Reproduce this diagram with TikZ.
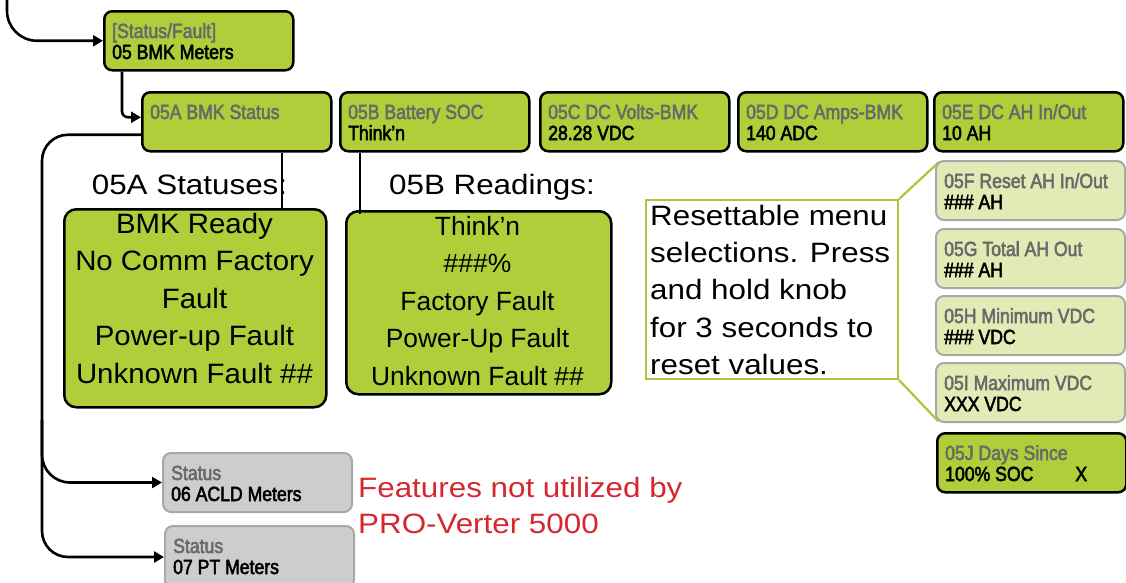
\documentclass[tikz,border=0pt]{standalone}
\usepackage{fontspec}
\setmainfont{Liberation Sans}
\newfontfamily\boxfont[FakeStretch=0.86,FakeBold=2.5]{Liberation Sans}
\newfontfamily\bigfont[FakeStretch=1.12]{Liberation Sans}
\newfontfamily\statfont[FakeStretch=1.05]{Liberation Sans}
\usetikzlibrary{arrows.meta}

\definecolor{menugreen}{RGB}{175,206,57}
\definecolor{palegreen}{RGB}{224,235,181}
\definecolor{unusedgray}{RGB}{205,205,205}
\definecolor{framegray}{RGB}{168,168,168}
\definecolor{labelgray}{RGB}{105,105,105}
\definecolor{notered}{RGB}{214,39,46}
\definecolor{linkgreen}{RGB}{165,200,60}

% A menu screen: name, top-left corner, style, grey caption, black value
\newcommand\menubox[5]{%
  \node[#3, anchor=north west] (#1) at (#2) {};
  \node[boxtext, text=labelgray] (#1-cap) at ([xshift=9pt,yshift=-28pt]#1.north west) {#4};
  \node[boxtext] (#1-val) at ([xshift=9pt,yshift=-49pt]#1.north west) {#5};
}

\tikzset{
  menu/.style={rectangle, rounded corners=8pt, draw=black, line width=2.5pt,
    fill=menugreen, minimum width=189pt, minimum height=59pt, inner sep=0pt},
  resetmenu/.style={menu, draw=framegray, fill=palegreen, line width=2pt},
  unused/.style={menu, draw=framegray, fill=unusedgray, line width=2pt},
  boxtext/.style={anchor=base west, inner sep=0pt, font=\boxfont\fontsize{20.5}{21}\selectfont},
  bigtext/.style={inner sep=0pt, font=\bigfont\fontsize{28}{34}\selectfont},
  stattext/.style={anchor=base, inner sep=0pt, font=\statfont\fontsize{28}{34}\selectfont},
  readtext/.style={anchor=base, inner sep=0pt, font=\fontsize{26.4}{32}\selectfont},
  listbox/.style={rectangle, rounded corners=12pt, draw=black, line width=2.5pt,
    fill=menugreen, inner sep=0pt},
  flow/.style={line width=2.6pt, -{Triangle[length=10pt,width=11pt]}},
  tie/.style={line width=1.6pt},
  link/.style={draw=linkgreen, line width=2.2pt},
}

\begin{document}
\begin{tikzpicture}[x=1pt, y=-1pt]
\useasboundingbox (0,0) rectangle (1126,582);

% top level menu and the 05 sub-menu row
\menubox{bmk}{103,10}{menu}{[Status/Fault]}{05 BMK Meters}
\menubox{A}{141,91}{menu}{05A BMK Status}{}
\menubox{B}{339,91}{menu}{05B Battery SOC}{Think’n}
\menubox{C}{539,91}{menu}{05C DC Volts-BMK}{28.28 VDC}
\menubox{D}{737,91}{menu}{05D DC Amps-BMK}{140 ADC}
\menubox{E}{933,91}{menu}{05E DC AH In/Out}{10 AH}

% note and its leader lines to the resettable screens
\node[rectangle, draw=linkgreen, line width=2pt, fill=white, anchor=north west,
  minimum width=252pt, minimum height=179pt, inner sep=0pt] (note) at (645,199) {};
\coordinate (Fcorner) at (939,162);
\coordinate (Icorner) at (938,421);
\draw[link] (note.north east) -- (Fcorner);
\draw[link] (note.south east) -- (Icorner);
\foreach \t [count=\i from 0] in {Resettable menu, selections. Press, and hold knob,
  for 3 seconds to, reset values.}
  \node[bigtext, anchor=base west] (note-\i) at (650, 225+37.4*\i) {\t};

% resettable screens
\menubox{F}{935,160}{resetmenu}{05F Reset AH In/Out}{\#\#\# AH}
\menubox{G}{935,228}{resetmenu}{05G Total AH Out}{\#\#\# AH}
\menubox{H}{935,295}{resetmenu}{05H Minimum VDC}{\#\#\# VDC}
\menubox{I}{935,362}{resetmenu}{05I Maximum VDC}{XXX VDC}
\menubox{J}{936,432}{menu}{05J Days Since}{100\% SOC\hspace{42pt}X}

% unused menus
\menubox{S6}{162,452}{unused}{Status}{06 ACLD Meters}
\menubox{S7}{164,525}{unused, minimum height=62pt}{Status}{07 PT Meters}
\node[bigtext, text=notered, anchor=base west] (unused-1) at (358,497) {Features not utilized by};
\node[bigtext, text=notered, anchor=base west] (unused-2) at (358,533) {PRO-Verter 5000};

% status and reading lists
\node[bigtext, anchor=base] (stat-head) at (189.5,194) {05A Statuses:};
\node[bigtext, anchor=base] (read-head) at (492,194) {05B Readings:};
\node[listbox, anchor=north west, minimum width=262pt, minimum height=198pt] (stat) at (63,208) {};
\node[listbox, anchor=north west, minimum width=265pt, minimum height=183pt] (read) at (345,210) {};
\foreach \t [count=\i from 0] in {BMK Ready, No Comm Factory, Fault, Power-up Fault, Unknown Fault \#\#}
  \node[stattext] (stat-\i) at (194.5, 233+37.6*\i) {\t};
\foreach \t [count=\i from 0] in {Think’n, \#\#\#\%, Factory Fault, Power-Up Fault, Unknown Fault \#\#}
  \node[readtext] (read-\i) at (477.5, 235+37.6*\i) {\t};

\coordinate (tieA) at (282,0);
\coordinate (tieB) at (360,0);
\draw[tie] (tieA |- A.south) -- (tieA |- stat.north);
\draw[tie] (tieB |- B.south) -- ([yshift=-4pt]tieB |- read.north);

% menu flow arrows
\coordinate (feed) at (7,-4);
\draw[flow, rounded corners=30pt] (feed) |- (bmk.west);
\draw[flow, rounded corners=6pt] ([xshift=19pt]bmk.south west) |- ([yshift=4.5pt]A.west);
\coordinate (trunk) at (42,300);
\coordinate (fork) at (42,420);
\draw[flow, rounded corners=26pt] ([yshift=-13pt]A.west) -| (trunk |- S7.west) -- (S7.west);
\draw[flow, rounded corners=28pt] (fork) |- (S6.west);
\end{tikzpicture}
\end{document}
